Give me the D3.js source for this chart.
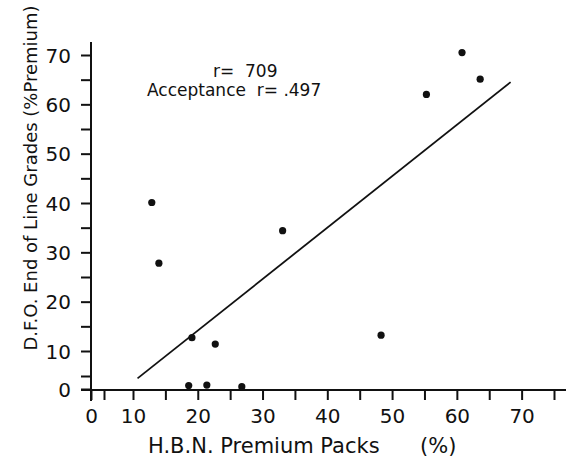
<!DOCTYPE html>
<html><head><meta charset="utf-8">
<script src="https://cdn.jsdelivr.net/npm/d3@7/dist/d3.min.js"></script>
<style>html,body{margin:0;padding:0;background:#fff;}svg{display:block;}</style>
</head><body>
<script>
// Data
const hbnPremium = [12.9, 14.0, 19.1, 22.7, 18.6, 21.4, 26.8, 33.1, 48.3, 55.3, 60.8, 63.6];
const dfoPremium = [40.1, 27.8, 12.7, 11.4, 1.3, 1.5, 0.9, 34.4, 13.2, 62.0, 70.5, 65.1];
const fitX = [10.7, 68.3];
const fitY = [4.1, 64.5];
const xTickValues = [0, 10, 20, 30, 40, 50, 60, 70];
const xMinorTicks = [5, 15, 25, 35, 45, 55, 65, 75];
const yTickValues = [0, 10, 20, 30, 40, 50, 60, 70];
const yMinorTicks = [5, 15, 25, 35, 45, 55, 65];
const annotations = ["r=  709", "Acceptance  r= .497"];
const xTitle = "H.B.N. Premium Packs";
const xTitleUnit = "(%)";
const yTitle = "D.F.O. End of Line Grades (%Premium)";

const W = 571, H = 457;
const svg = d3.select("body").append("svg").attr("width", W).attr("height", H);
const font = "'DejaVu Sans', sans-serif";
const ink = "#111";

// broken (piecewise) scales, as in the original hand-drawn chart
const x = d3.scaleLinear().domain([0, 5, 10, 75]).range([91, 104, 133, 554]);
const y = d3.scaleLinear().domain([0, 5, 10, 70]).range([389, 376, 351, 55]);

// axis lines
svg.append("line").attr("x1", 91).attr("x2", 91).attr("y1", 42).attr("y2", 401)
  .attr("stroke", ink).attr("stroke-width", 2);
svg.append("line").attr("x1", 81).attr("x2", 566).attr("y1", 390).attr("y2", 390)
  .attr("stroke", ink).attr("stroke-width", 2);

// x axis
const xAxis = d3.axisBottom(x).tickValues(xTickValues.concat(xMinorTicks)).tickSize(10)
  .tickFormat(d => xTickValues.includes(d) ? d : "");
const gx = svg.append("g").attr("transform", "translate(0,390)").call(xAxis);
gx.select(".domain").remove();
gx.selectAll(".tick line").attr("stroke", ink).attr("stroke-width", 2);
gx.selectAll(".tick text").attr("font-family", font).attr("font-size", 20).attr("fill", ink)
  .attr("y", 0).attr("dy", "1.65em");

// y axis
const yAxis = d3.axisLeft(y).tickValues(yTickValues.concat(yMinorTicks)).tickSize(10)
  .tickFormat(d => yTickValues.includes(d) ? d : "");
const gy = svg.append("g").attr("transform", "translate(91,0)").call(yAxis);
gy.select(".domain").remove();
gy.selectAll(".tick line").attr("stroke", ink).attr("stroke-width", 2);
gy.selectAll(".tick text").attr("font-family", font).attr("font-size", 20).attr("fill", ink)
  .attr("x", -20).attr("dy", "0.36em");

// regression line
const fitData = fitX.map((v, i) => [v, fitY[i]]);
svg.append("path").datum(fitData)
  .attr("d", d3.line().x(d => x(d[0])).y(d => y(d[1])))
  .attr("fill", "none").attr("stroke", ink).attr("stroke-width", 1.8);

// points
const pts = hbnPremium.map((v, i) => ({x: v, y: dfoPremium[i]}));
svg.append("g").selectAll("circle").data(pts).join("circle")
  .attr("cx", d => x(d.x)).attr("cy", d => y(d.y)).attr("r", 3.6).attr("fill", ink);

// annotation
svg.append("text").attr("x", 213).attr("y", 77).attr("font-family", font).attr("font-size", 17)
  .attr("fill", ink).style("white-space", "pre").text(annotations[0]);
svg.append("text").attr("x", 147).attr("y", 96).attr("font-family", font).attr("font-size", 17)
  .attr("fill", ink).style("white-space", "pre").text(annotations[1]);

// titles
svg.append("text").attr("x", 148).attr("y", 453).attr("font-family", font).attr("font-size", 21)
  .attr("fill", ink).text(xTitle);
svg.append("text").attr("x", 420).attr("y", 453).attr("font-family", font).attr("font-size", 21)
  .attr("fill", ink).text(xTitleUnit);
svg.append("text").attr("transform", "translate(37,178) rotate(-90)").attr("text-anchor", "middle")
  .attr("font-family", font).attr("font-size", 18).attr("fill", ink).text(yTitle);
</script>
</body></html>
